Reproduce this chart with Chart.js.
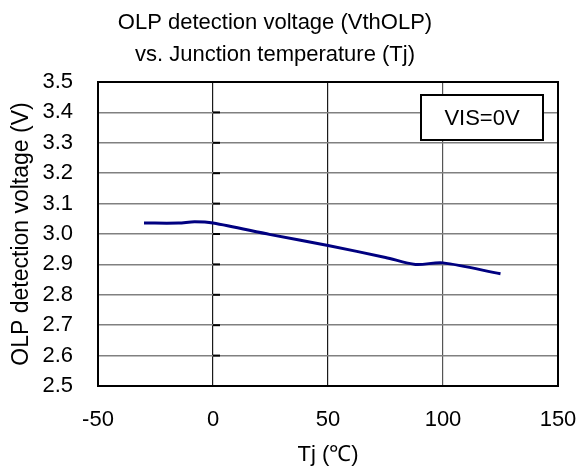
<!DOCTYPE html>
<html>
<head>
<meta charset="utf-8">
<script src="https://cdn.jsdelivr.net/npm/chart.js@4/dist/chart.umd.min.js"></script>
<style>
  html, body { margin: 0; padding: 0; background: #ffffff; }
  #wrap { width: 580px; height: 469px; position: relative; }
</style>
</head>
<body>
<div id="wrap"><canvas id="c" width="580" height="469"></canvas></div>
<script>
// ---- data ----
const titleLines = ["OLP detection voltage (VthOLP)", "vs. Junction temperature (Tj)"];
const xAxisTitle = "Tj (\u2103)";
const yAxisTitle = "OLP detection voltage (V)";
const noteText = "VIS=0V";
const tjValues = [-30, -15, -8, 0, 25, 50, 75, 88, 100, 125];
const vthValues = [3.036, 3.036, 3.040, 3.036, 2.998, 2.962, 2.923, 2.900, 2.905, 2.869];
const xTicks = [-50, 0, 50, 100, 150];
const yTicks = [2.5, 2.6, 2.7, 2.8, 2.9, 3.0, 3.1, 3.2, 3.3, 3.4, 3.5];

const FONT = '"Liberation Sans", Arial, sans-serif';
const FS = 22;

const points = tjValues.map((t, i) => ({ x: t, y: vthValues[i] }));

const decorPlugin = {
  id: 'decor',
  afterDraw(chart) {
    const { ctx, chartArea: a, scales } = chart;
    ctx.save();
    // axis cross tick marks at x = 0
    const x0 = scales.x.getPixelForValue(0);
    ctx.strokeStyle = '#000';
    ctx.lineWidth = 2;
    yTicks.forEach(v => {
      const py = scales.y.getPixelForValue(v);
      ctx.beginPath(); ctx.moveTo(x0, py); ctx.lineTo(x0 + 7, py); ctx.stroke();
    });
    // frame
    ctx.strokeRect(a.left, a.top, a.right - a.left, a.bottom - a.top);
    // title
    ctx.fillStyle = '#000';
    ctx.font = FS + 'px ' + FONT;
    ctx.textAlign = 'center';
    ctx.textBaseline = 'middle';
    ctx.fillText(titleLines[0], 275, 23);
    ctx.fillText(titleLines[1], 275, 55);
    // note box
    const bx = a.right - 137, by = a.top + 13, bw = 122, bh = 45;
    ctx.fillStyle = '#fff';
    ctx.fillRect(bx, by, bw, bh);
    ctx.lineWidth = 2;
    ctx.strokeRect(bx, by, bw, bh);
    ctx.fillStyle = '#000';
    ctx.fillText(noteText, bx + bw / 2, by + bh / 2 + 1);
    ctx.restore();
  }
};

new Chart(document.getElementById('c'), {
  type: 'scatter',
  data: {
    datasets: [{
      data: points,
      showLine: true,
      borderColor: '#000080',
      backgroundColor: '#000080',
      borderWidth: 3,
      pointRadius: 0,
      tension: 0.3
    }]
  },
  options: {
    responsive: false,
    animation: false,
    devicePixelRatio: 1,
    layout: { padding: { top: 82, right: 22, left: 0, bottom: 0 } },
    plugins: { legend: { display: false }, title: { display: false }, tooltip: { enabled: false } },
    scales: {
      x: {
        type: 'linear', min: -50, max: 150,
        afterBuildTicks(s) { s.ticks = xTicks.map(v => ({ value: v })); },
        afterFit(s) { s.height = 83; s.paddingLeft = 0; s.paddingRight = 0; },
        grid: {
          drawTicks: false,
          color: c => (c.tick && (c.tick.value === 0 || c.tick.value === 50)) ? '#1a1a1a' : '#555555',
          lineWidth: 1.2
        },
        border: { display: true, color: '#000', width: 2 },
        ticks: { padding: 21, color: '#000', font: { family: FONT, size: FS }, maxRotation: 0 },
        title: { display: true, text: xAxisTitle, color: '#000', font: { family: FONT, size: FS }, padding: { top: 0, bottom: 1 } }
      },
      y: {
        type: 'linear', min: 2.5, max: 3.5,
        afterBuildTicks(s) { s.ticks = yTicks.map(v => ({ value: v })); },
        afterFit(s) { s.width = 98; },
        grid: { drawTicks: false, color: '#808080', lineWidth: 1.5 },
        border: { display: true, color: '#000', width: 2 },
        ticks: { padding: 25, color: '#000', font: { family: FONT, size: FS }, callback: v => Number(v).toFixed(1) },
        title: { display: true, text: yAxisTitle, color: '#000', font: { family: FONT, size: 23 }, padding: { top: 8, bottom: 0 } }
      }
    }
  },
  plugins: [decorPlugin]
});
</script>
</body>
</html>
